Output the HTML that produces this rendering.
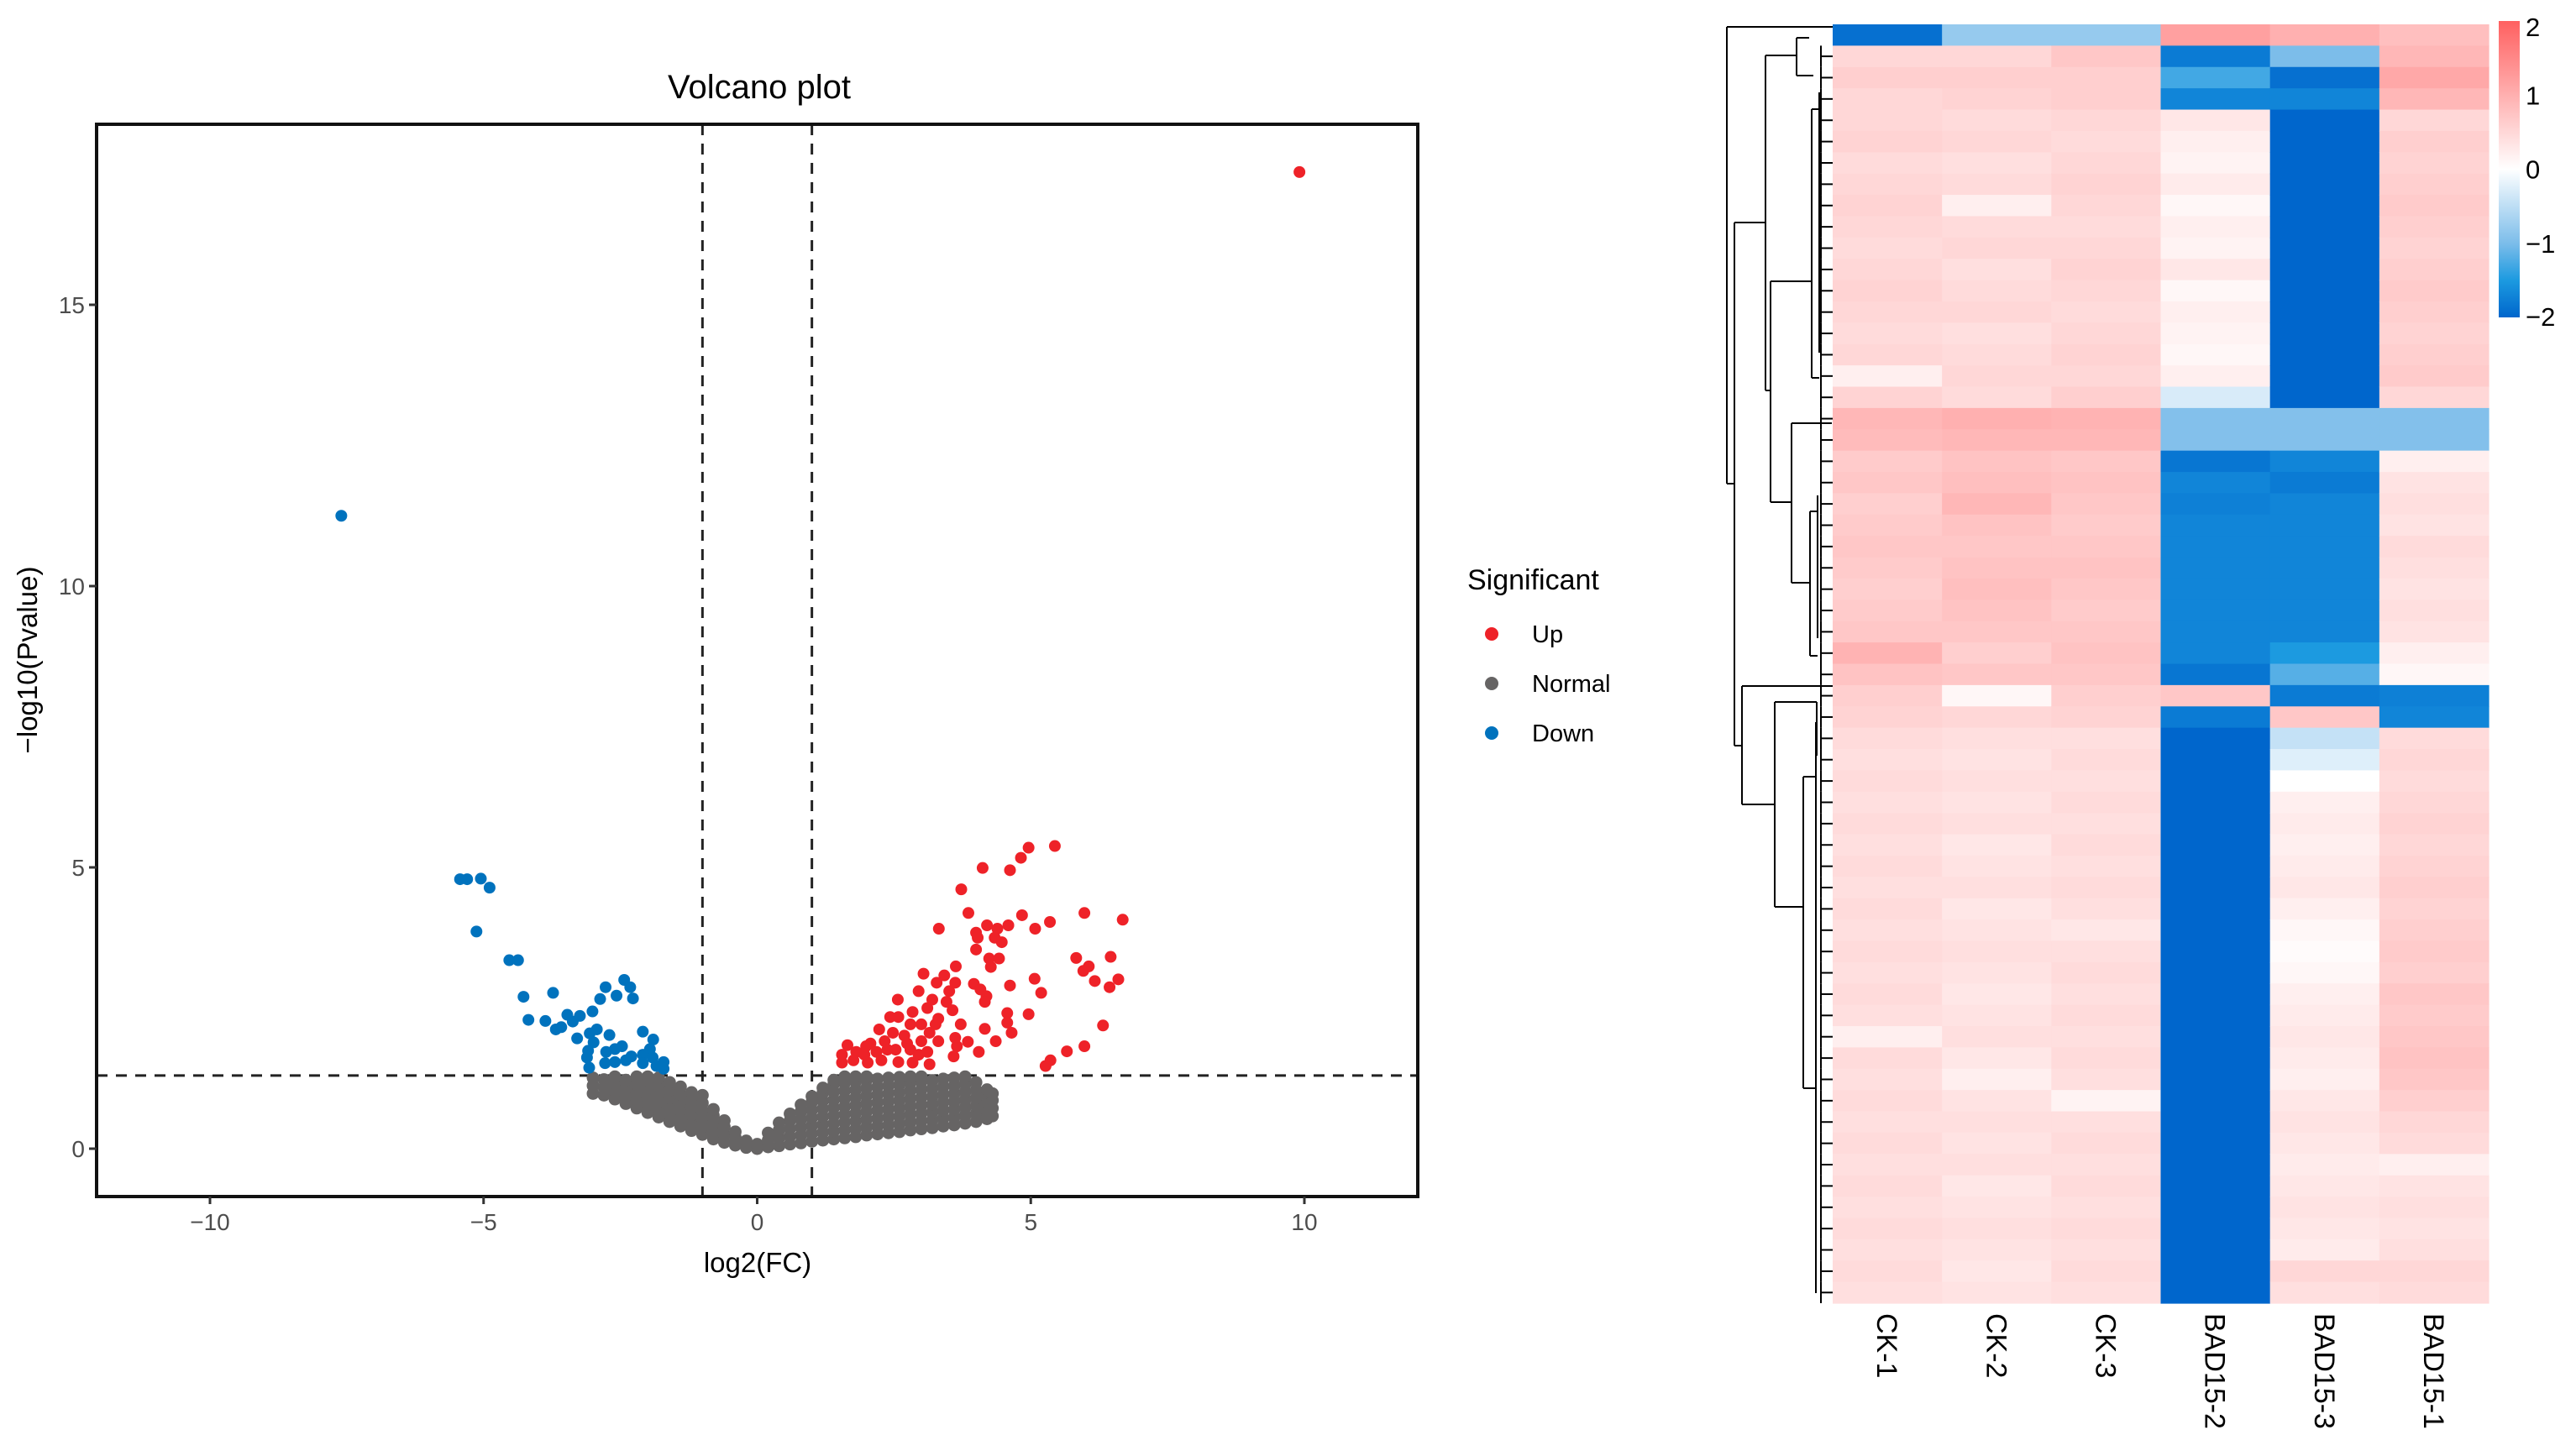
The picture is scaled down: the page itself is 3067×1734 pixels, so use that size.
<!DOCTYPE html>
<html><head><meta charset="utf-8"><style>
html,body{margin:0;padding:0;background:#fff;}
svg{display:block;font-family:"Liberation Sans",Arial,sans-serif;}
</style></head><body>
<svg id="fig" width="3067" height="1734" viewBox="0 0 3067 1734">
<rect x="0" y="0" width="3067" height="1734" fill="#fff"/>
<g id="volcano"></g>
<g id="heat"></g>
</svg>
<script>
// ===== Volcano data =====
const xTicks = [-10, -5, 0, 5, 10];
const yTicks = [0, 5, 10, 15];
const upX = [9.91,5.44,4.96,4.82,4.12,4.62,3.73,3.86,3.32,4.84,5.98,6.68,5.35,5.08,4.2,4.39,4.59,4.0,4.03,4.34,4.47,4.0,4.24,4.42,4.27,5.83,6.46,6.06,5.96,6.17,6.6,6.44,5.07,5.19,4.62,3.96,4.08,4.19,4.16,3.63,3.04,3.42,3.28,3.62,2.95,2.57,3.51,3.2,3.46,3.57,3.11,2.84,2.43,2.58,3.31,3.72,3.0,2.8,2.23,2.48,2.69,3.15,3.31,3.0,2.33,2.07,1.99,1.65,1.55,1.81,2.18,2.53,2.8,2.95,3.11,1.55,1.76,2.02,2.27,2.58,2.84,3.15,3.62,3.65,3.59,3.85,4.05,4.16,4.36,4.57,4.57,4.65,4.96,6.32,5.98,5.66,5.36,5.27,2.74,2.38,1.96,3.26];
const upY = [17.36,5.38,5.35,5.17,4.99,4.95,4.61,4.19,3.91,4.15,4.19,4.07,4.03,3.91,3.97,3.91,3.97,3.84,3.75,3.75,3.67,3.54,3.38,3.38,3.23,3.39,3.41,3.24,3.16,2.98,3.01,2.87,3.02,2.77,2.9,2.93,2.83,2.71,2.61,3.24,3.11,3.08,2.95,2.95,2.8,2.65,2.8,2.65,2.61,2.46,2.5,2.43,2.34,2.34,2.31,2.21,2.21,2.21,2.12,2.06,2.01,2.06,1.91,1.91,1.91,1.87,1.82,1.84,1.67,1.72,1.72,1.76,1.76,1.67,1.72,1.53,1.57,1.53,1.57,1.54,1.53,1.5,1.97,1.82,1.64,1.9,1.72,2.13,1.91,2.41,2.24,2.06,2.39,2.19,1.82,1.73,1.57,1.47,1.87,1.76,1.67,2.21];
const downX = [-7.6,-5.43,-5.3,-5.05,-4.89,-5.13,-4.53,-4.37,-4.27,-3.73,-4.18,-3.87,-3.68,-3.58,-3.47,-3.37,-3.24,-3.01,-2.87,-2.77,-2.57,-2.43,-2.32,-2.27,-3.29,-3.06,-2.93,-2.99,-3.09,-3.11,-3.07,-2.7,-2.76,-2.6,-2.47,-2.78,-2.6,-2.4,-2.3,-2.09,-1.9,-1.96,-2.09,-2.09,-1.91,-1.71,-1.71,-1.84];
const downY = [11.25,4.79,4.79,4.8,4.64,3.86,3.35,3.35,2.7,2.77,2.29,2.27,2.12,2.16,2.38,2.26,2.36,2.44,2.66,2.87,2.72,3.0,2.87,2.67,1.96,2.05,2.12,1.89,1.74,1.62,1.44,2.02,1.72,1.77,1.82,1.52,1.54,1.57,1.64,2.08,1.94,1.77,1.67,1.52,1.62,1.54,1.42,1.47];
const normCols = [-3.0,-2.8,-2.6,-2.4,-2.2,-2.0,-1.8,-1.6,-1.4,-1.2,-1.0,-0.8,-0.6,-0.4,-0.2,0,0.2,0.4,0.6,0.8,1.0,1.2,1.4,1.6,1.8,2.0,2.2,2.4,2.6,2.8,3.0,3.2,3.4,3.6,3.8,4.0,4.2,4.3];
const normYs = [
 [0.98,1.12,1.26],[0.95,1.09,1.23],[0.88,1.02,1.16,1.28],[0.8,0.94,1.08,1.22],[0.72,0.86,1.0,1.14,1.28],
 [0.64,0.78,0.92,1.06,1.2,1.28],[0.56,0.7,0.84,0.98,1.12,1.26],[0.48,0.62,0.76,0.9,1.04,1.18],[0.4,0.54,0.68,0.82,0.96,1.1],
 [0.32,0.46,0.6,0.74,0.88,1.0],[0.25,0.39,0.53,0.67,0.81,0.95],[0.17,0.31,0.45,0.59,0.7],[0.11,0.25,0.39,0.5],[0.06,0.2,0.3],[0.02,0.14],[0.0,0.08],
 [0.03,0.15,0.28],[0.05,0.19,0.33,0.46],[0.08,0.22,0.36,0.5,0.62],[0.1,0.24,0.38,0.52,0.66,0.78],[0.13,0.27,0.41,0.55,0.69,0.83,0.93],
 [0.15,0.29,0.43,0.57,0.71,0.85,0.99,1.08],[0.17,0.31,0.45,0.59,0.73,0.87,1.01,1.15,1.22],[0.19,0.33,0.47,0.61,0.75,0.89,1.03,1.17,1.28],
 [0.21,0.35,0.49,0.63,0.77,0.91,1.05,1.19,1.28],[0.24,0.38,0.52,0.66,0.8,0.94,1.08,1.22,1.28],[0.26,0.4,0.54,0.68,0.82,0.96,1.1,1.24],
 [0.28,0.42,0.56,0.7,0.84,0.98,1.12,1.26],[0.3,0.44,0.58,0.72,0.86,1.0,1.14,1.27],[0.33,0.47,0.61,0.75,0.89,1.03,1.17,1.28],
 [0.35,0.49,0.63,0.77,0.91,1.05,1.19,1.28],[0.37,0.51,0.65,0.79,0.93,1.07,1.21],[0.4,0.54,0.68,0.82,0.96,1.1,1.24],
 [0.42,0.56,0.7,0.84,0.98,1.12,1.26],[0.45,0.59,0.73,0.87,1.01,1.15,1.28],[0.48,0.62,0.76,0.9,1.04,1.18],[0.53,0.67,0.81,0.95,1.05],[0.58,0.72,0.86,0.98]
];
const vLines = [-1, 1];
const hLine = 1.3;

// ===== Heatmap data =====
const samples = ["CK-1","CK-2","CK-3","BAD15-2","BAD15-3","BAD15-1"];
const ck1 = [-1.9,0.5,0.6,0.5, 0.5,0.55,0.45,0.5,0.55,0.5,0.45,0.5,0.55,0.5,0.45,0.5,0.2,0.55, 0.9,0.85, 0.65,0.7,0.6,0.65,0.7,0.65,0.6,0.65,0.7,0.95,0.75, 0.6,0.55, 0.45,0.4,0.45,0.4,0.45,0.4,0.45,0.4,0.45,0.4,0.45,0.4,0.45,0.4,0.2,0.45,0.4,0.45,0.4,0.45,0.4,0.45,0.4,0.45,0.4,0.45,0.4];
const ck2 = [-0.8,0.5,0.6,0.55, 0.45,0.5,0.4,0.45,0.2,0.45,0.5,0.4,0.45,0.5,0.4,0.45,0.5,0.45, 1.0,0.9, 0.75,0.8,0.9,0.75,0.7,0.75,0.8,0.75,0.7,0.6,0.7, 0.1,0.5, 0.4,0.35,0.4,0.35,0.4,0.3,0.35,0.4,0.3,0.35,0.4,0.35,0.3,0.35,0.4,0.3,0.2,0.35,0.4,0.35,0.4,0.3,0.35,0.4,0.35,0.3,0.35];
const ck3 = [-0.8,0.7,0.6,0.6, 0.5,0.45,0.5,0.55,0.5,0.45,0.5,0.55,0.5,0.45,0.5,0.55,0.5,0.6, 0.95,0.9, 0.7,0.75,0.7,0.65,0.7,0.75,0.7,0.65,0.7,0.75,0.7, 0.6,0.55, 0.4,0.45,0.4,0.45,0.4,0.45,0.4,0.45,0.4,0.3,0.4,0.45,0.4,0.45,0.4,0.45,0.4,0.15,0.4,0.45,0.4,0.45,0.4,0.45,0.4,0.45,0.4];
const bad2 = [1.2,-1.8,-1.3,-1.7, 0.3,0.2,0.15,0.25,0.1,0.2,0.15,0.3,0.1,0.2,0.15,0.1,0.2,-0.3, -0.95,-0.95, -1.85,-1.7,-1.75,-1.7,-1.7,-1.7,-1.7,-1.7,-1.7,-1.7,-1.85, 0.7,-1.8, -2,-2,-2,-2,-2,-2,-2,-2,-2,-2,-2,-2,-2,-2,-2,-2,-2,-2,-2,-2,-2,-2,-2,-2,-2,-2,-2];
const bad3 = [1.0,-1.0,-1.9,-1.7, -2,-2,-2,-2,-2,-2,-2,-2,-2,-2,-2,-2,-2,-2, -0.95,-0.95, -1.7,-1.8,-1.7,-1.7,-1.7,-1.7,-1.7,-1.7,-1.7,-1.5,-1.2, -1.8,0.7, -0.45,-0.25,0.0,0.2,0.25,0.2,0.25,0.3,0.2,0.1,0.05,0.1,0.2,0.25,0.3,0.25,0.2,0.3,0.35,0.3,0.25,0.3,0.35,0.3,0.25,0.5,0.4];
const bad1 = [0.8,0.9,1.1,0.9, 0.5,0.6,0.55,0.6,0.65,0.6,0.55,0.6,0.65,0.6,0.55,0.6,0.65,0.5, -0.95,-0.95, 0.2,0.35,0.4,0.35,0.45,0.4,0.35,0.4,0.35,0.2,0.1, -1.75,-1.7, 0.45,0.5,0.45,0.5,0.55,0.5,0.55,0.6,0.55,0.6,0.65,0.6,0.7,0.65,0.7,0.75,0.7,0.6,0.5,0.45,0.2,0.35,0.4,0.35,0.4,0.5,0.45];
const cbTicks = [2, 1, 0, -1, -2];

const NS = "http://www.w3.org/2000/svg";
function mk(tag, attrs, parent){ const e=document.createElementNS(NS,tag); for(const k in attrs) e.setAttribute(k,attrs[k]); parent.appendChild(e); return e; }

// ===== Volcano drawing =====
const V = document.getElementById('volcano');
const P = {l:115, r:1688, t:148, b:1425};
const sx = v => 901.5 + v*65.15;
const sy = v => 1368 - v*67;

const ttl = mk('text',{x:904,y:117,'font-size':40,'text-anchor':'middle',fill:'#000'},V);
ttl.textContent='Volcano plot';



vLines.forEach(v=>{ const l=mk('line',{x1:sx(v),x2:sx(v),y1:P.t,y2:P.b,stroke:'#222','stroke-width':3,'stroke-dasharray':'13,10'},V);
 
  });
const hl = mk('line',{x1:P.l,x2:P.r,y1:sy(hLine),y2:sy(hLine),stroke:'#222','stroke-width':3,'stroke-dasharray':'13,10'},V);



const gN = mk('g',{fill:'#666464'},V);


normCols.forEach((x,i)=>{ normYs[i].forEach(y=>{ const c=mk('circle',{cx:sx(x),cy:sy(y),r:7.5},gN);
 
  }); });
const gD = mk('g',{fill:'#0072bd'},V);


downX.forEach((x,i)=>{ const c=mk('circle',{cx:sx(x),cy:sy(downY[i]),r:7},gD);
 
  });
const gU = mk('g',{fill:'#ee2228'},V);


upX.forEach((x,i)=>{ const c=mk('circle',{cx:sx(x),cy:sy(upY[i]),r:7},gU);
 
  });

const fr = mk('rect',{x:P.l,y:P.t,width:P.r-P.l,height:P.b-P.t,fill:'none',stroke:'#111','stroke-width':4},V);



xTicks.forEach(t=>{ mk('line',{x1:sx(t),x2:sx(t),y1:P.b,y2:P.b+9,stroke:'#333','stroke-width':3},V);
 const tx=mk('text',{x:sx(t),y:P.b+40,'font-size':28,'text-anchor':'middle',fill:'#4d4d4d'},V);
 tx.textContent = t<0 ? '\u2212'+Math.abs(t) : String(t);
 
  });
yTicks.forEach(t=>{ mk('line',{x1:P.l-9,x2:P.l,y1:sy(t),y2:sy(t),stroke:'#333','stroke-width':3},V);
 const tx=mk('text',{x:P.l-14,y:sy(t)+10,'font-size':28,'text-anchor':'end',fill:'#4d4d4d'},V);
 tx.textContent=String(t);
 
  });

const xt = mk('text',{x:902,y:1515,'font-size':33,'text-anchor':'middle',fill:'#000'},V);
xt.textContent='log2(FC)';


const yt = mk('text',{x:0,y:0,'font-size':33,'text-anchor':'middle',fill:'#000',transform:'translate(44,786) rotate(-90)'},V);
yt.textContent='\u2212log10(Pvalue)';



const lg = mk('g',{},V);


const lt = mk('text',{x:1747,y:702,'font-size':34,fill:'#000'},lg);
lt.textContent='Significant';


const legItems=[['Up','#ee2228',755],['Normal','#666464',814],['Down','#0072bd',873]];
legItems.forEach(it=>{ const c=mk('circle',{cx:1776,cy:it[2],r:8,fill:it[1]},lg);
 
 
 const t=mk('text',{x:1824,y:it[2]+10,'font-size':29,fill:'#000'},lg);
 t.textContent=it[0];
 
  });

// ===== Heatmap drawing =====
const H = document.getElementById('heat');
const HM = {l:2182, r:2963, t:29, b:1552};
const cols=[ck1,ck2,ck3,bad2,bad3,bad1];
const nRows = ck1.length;
const cw = (HM.r-HM.l)/samples.length, rh=(HM.b-HM.t)/nRows;
const stops=[[-2,[0,102,204]],[-1.5,[28,154,224]],[-1,[124,189,234]],[0,[255,255,255]],[2,[255,96,96]]];
function col(v){ v=Math.max(-2,Math.min(2,v)); for(let i=0;i<stops.length-1;i++){ const a=stops[i],b=stops[i+1]; if(v<=b[0]){ const f=(v-a[0])/(b[0]-a[0]); const c=a[1].map((x,k)=>Math.round(x+(b[1][k]-x)*f)); return 'rgb('+c.join(',')+')'; } } return 'rgb(255,96,96)'; }
cols.forEach((arr,j)=>{ arr.forEach((v,i)=>{ const r=mk('rect',{x:HM.l+j*cw,y:HM.t+i*rh,width:cw+0.6,height:rh+0.6,fill:col(v)},H);
 
  }); });
samples.forEach((s,j)=>{ const t=mk('text',{x:0,y:0,'font-size':34,fill:'#000',transform:'translate('+(HM.l+(j+0.5)*cw-12)+','+(HM.b+12)+') rotate(90)'},H);
 t.textContent=s;
 
  });

const defs=mk('defs',{},H);
const gr=mk('linearGradient',{id:'cbg',x1:0,y1:1,x2:0,y2:0},defs);
stops.forEach(s=>mk('stop',{offset:((s[0]+2)/4),'stop-color':'rgb('+s[1].join(',')+')'},gr));
const cb=mk('rect',{x:2975,y:25,width:25,height:353,fill:'url(#cbg)'},H);


cbTicks.forEach(t=>{ const y=25+(2-t)/4*353; const tx=mk('text',{x:3007,y:Math.max(43,Math.min(y+11,388)),'font-size':31,fill:'#000'},H);
 tx.textContent = t<0 ? '\u2212'+Math.abs(t) : String(t);
 
  });

// dendrogram (structure)
const D = mk('g',{stroke:'#000','stroke-width':2,fill:'none',transform:'translate(-6,0)'},H);


const seg=(x1,y1,x2,y2)=>mk('line',{x1,y1,x2,y2},D);
seg(2062,32,2062,576); seg(2062,32,2188,32); seg(2062,576,2071,576);
seg(2071,265,2071,888); seg(2071,265,2108,265); seg(2071,888,2080,888);
seg(2108,66,2108,465); seg(2108,66,2145,66); seg(2108,465,2114,465);
seg(2145,45,2145,90); seg(2145,45,2160,45); seg(2145,90,2165,90);
seg(2114,335,2114,598); seg(2114,335,2163,335); seg(2114,598,2139,598);
seg(2163,130,2163,450); seg(2163,130,2172,130); seg(2163,450,2172,450);
seg(2172,110,2172,420); seg(2139,504,2139,694); seg(2139,504,2187,504); seg(2139,694,2161,694);
seg(2161,609,2161,781); seg(2161,609,2170,609); seg(2161,781,2170,781);
seg(2170,590,2170,760);
seg(2080,817,2080,958); seg(2080,817,2136,817); seg(2136,817,2188,817); seg(2080,958,2119,958);
seg(2119,836,2119,1080); seg(2119,836,2169,836); seg(2119,1080,2153,1080);
seg(2153,925,2153,1296); seg(2153,925,2168,925); seg(2153,1296,2168,1296);
seg(2168,860,2168,1180); seg(2168,1120,2168,1540); seg(2169,836,2169,900);
for(let i=1;i<nRows;i++){ const y=HM.t+(i+0.5)*rh; seg(2174,y,2188,y); seg(2174,y-rh/2,2174,y+rh/2); }
</script>
</body></html>
